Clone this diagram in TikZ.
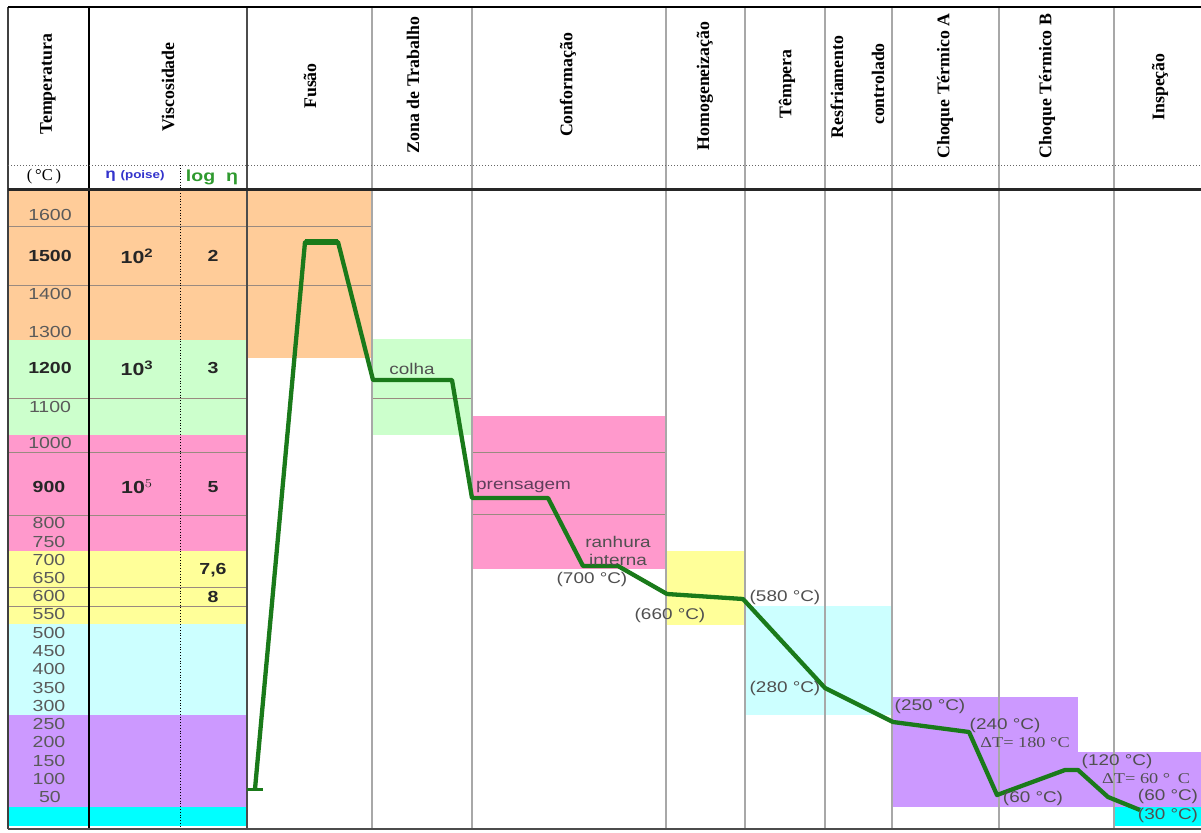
\documentclass[tikz,border=0pt]{standalone}
\usepackage{fontspec}
\setmainfont{Liberation Sans}
\newfontfamily\tnr{Liberation Serif}
\definecolor{corange}{HTML}{FFCC99}
\definecolor{cgreen}{HTML}{CCFFCC}
\definecolor{cpink}{HTML}{FF99CC}
\definecolor{cyellow}{HTML}{FFFF99}
\definecolor{clcyan}{HTML}{CCFFFF}
\definecolor{cpurple}{HTML}{CC99FF}
\definecolor{ccyan}{HTML}{00FFFF}
\definecolor{curvec}{HTML}{1A7A1A}
\definecolor{gridg}{HTML}{A8A8A8}
\definecolor{rowl}{HTML}{9A8A80}
\definecolor{numg}{HTML}{5A5A5A}
\definecolor{numd}{HTML}{262626}
\definecolor{lblc}{HTML}{505050}
\definecolor{prensc}{HTML}{5E3E5A}
\definecolor{etab}{HTML}{3333CC}
\definecolor{logg}{HTML}{2F9A2F}
\newcommand\hstr[1]{\scalebox{1.22}[1]{#1}}
\tikzset{
  hdr/.style={rotate=90, font=\tnr\bfseries\fontsize{17.8}{17.8}\selectfont, inner sep=0pt},
  num/.style={font=\fontsize{16}{16}\selectfont, text=numg, inner sep=0pt},
  numb/.style={font=\bfseries\fontsize{16}{16}\selectfont, text=numd, inner sep=0pt},
  bigv/.style={font=\bfseries\fontsize{17.5}{17.5}\selectfont, text=numd, inner sep=0pt},
  lbl/.style={font=\fontsize{15.5}{15.5}\selectfont, text=lblc, inner sep=0pt},
  dlt/.style={font=\tnr\fontsize{15}{15}\selectfont, text=lblc, inner sep=0pt},
  rowline/.style={draw=rowl, line width=0.9pt},
  colline/.style={draw=gridg, line width=1.8pt},
  curveline/.style={draw=curvec, line width=4.3pt, line join=round}
}
\begin{document}
\begin{tikzpicture}[x=1pt,y=-1pt]
\useasboundingbox (0,0) rectangle (1201,832);
\fill[white] (0,0) rectangle (1201,832);
% left bands
\fill[corange] (8,189) rectangle (247,340);
\fill[cgreen]  (8,340) rectangle (247,435);
\fill[cpink]   (8,435) rectangle (247,551);
\fill[cyellow] (8,551) rectangle (247,624);
\fill[clcyan]  (8,624) rectangle (247,715);
\fill[cpurple] (8,715) rectangle (247,807);
\fill[ccyan]   (8,807) rectangle (247,826);
% stage boxes
\fill[corange] (247,189) rectangle (372,358);
\fill[cgreen]  (372,339) rectangle (472,435);
\fill[cpink]   (472,416) rectangle (666,569);
\fill[cyellow] (666,551) rectangle (745,625);
\fill[clcyan]  (745,606) rectangle (892,715);
\fill[cpurple] (892,697) rectangle (1078,807);
\fill[cpurple] (1078,752) rectangle (1201,807);
\fill[ccyan]   (1114,807) rectangle (1201,826);
% row lines
\draw[rowline] (8,226) -- (372,226);
\draw[rowline] (8,285) -- (372,285);
\draw[rowline] (8,398) -- (247,398);
\draw[rowline] (372,398) -- (472,398);
\draw[rowline] (8,452) -- (247,452);
\draw[rowline] (8,515) -- (247,515);
\draw[rowline] (472,452) -- (666,452);
\draw[rowline] (472,514) -- (666,514);
\draw[rowline] (8,587) -- (247,587);
\draw[rowline] (8,606) -- (247,606);
% column lines
\foreach \xx in {372,472,666,745,825,892,999,1114}
  \draw[colline] (\xx,7) -- (\xx,829);
\draw[draw=black!75, line width=1.2pt] (8,7) -- (8,829);
\draw[draw=black!70, line width=1.3pt] (247,7) -- (247,829);
\draw[draw=black, line width=0.8pt, dotted] (180,165) -- (180,829);
\draw[draw=black, line width=2.6pt] (89,7) -- (89,829);
% horizontal frame lines
\draw[draw=black!60, line width=1pt, dotted] (8,165) -- (1201,165);
\draw[draw=black!85, line width=3pt] (8,189) -- (1201,189);
\draw[draw=black, line width=2pt] (8,7) -- (1201,7);
\draw[draw=black!70, line width=1.5pt] (8,829) -- (1201,829);
% headers
\node[hdr] (hTemp) at (48,84) {Temperatura};
\node[hdr] (hVisc) at (168,87) {Viscosidade};
\node[hdr] (hFus) at (310,86) {Fusão};
\node[hdr] (hZona) at (413,85) {Zona de Trabalho};
\node[hdr] (hConf) at (568,85) {Conformação};
\node[hdr] (hHom) at (705,86) {Homogeneização};
\node[hdr] (hTemp2) at (787,84) {Têmpera};
\node[hdr] (hRes1) at (837,87) {Resfriamento};
\node[hdr] (hRes2) at (878,84) {controlado};
\node[hdr] (hChA) at (945,86) {Choque Térmico A};
\node[hdr] (hChB) at (1047,86) {Choque Térmico B};
\node[hdr] (hIns) at (1160,87) {Inspeção};
% second header row
\node[font=\tnr\fontsize{16.5}{16.5}\selectfont, inner sep=0pt] (uC) at (44,177) {(\,°C\,)};
\node[inner sep=0pt, text=etab] (uEta) at (135,176) {\hstr{\bfseries\fontsize{14}{14}\selectfont η \fontsize{11}{11}\selectfont(poise)}};
\node[inner sep=0pt, text=logg] (uLog) at (212,177) {\hstr{\bfseries\fontsize{16}{16}\selectfont log\ \ η}};
% temperature scale
\node[num] (t1600) at (50,215) {\hstr{1600}};
\node[numb] (t1500) at (50,256) {\hstr{1500}};
\node[num] (t1400) at (50,294) {\hstr{1400}};
\node[num] (t1300) at (50,332) {\hstr{1300}};
\node[numb] (t1200) at (50,368) {\hstr{1200}};
\node[num] (t1100) at (50,407) {\hstr{1100}};
\node[num] (t1000) at (50,443) {\hstr{1000}};
\node[numb] (t900) at (49,487) {\hstr{900}};
\node[num] (t800) at (49,523) {\hstr{800}};
\node[num] (t750) at (49,542) {\hstr{750}};
\node[num] (t700) at (49,560) {\hstr{700}};
\node[num] (t650) at (49,578) {\hstr{650}};
\node[num] (t600) at (49,596) {\hstr{600}};
\node[num] (t550) at (49,614) {\hstr{550}};
\node[num] (t500) at (49,633) {\hstr{500}};
\node[num] (t450) at (49,651) {\hstr{450}};
\node[num] (t400) at (49,669) {\hstr{400}};
\node[num] (t350) at (49,688) {\hstr{350}};
\node[num] (t300) at (49,706) {\hstr{300}};
\node[num] (t250) at (49,724) {\hstr{250}};
\node[num] (t200) at (49,742) {\hstr{200}};
\node[num] (t150) at (49,761) {\hstr{150}};
\node[num] (t100) at (49,779) {\hstr{100}};
\node[num] (t50) at (50,797) {\hstr{50}};
% viscosity values
\node[bigv] (v2) at (137,256) {\hstr{10$^{\mathbf 2}$}};
\node[numb] (l2) at (213,256) {\hstr{2}};
\node[bigv] (v3) at (137,368) {\hstr{10$^{\mathbf 3}$}};
\node[numb] (l3) at (213,368) {\hstr{3}};
\node[bigv] (v5) at (137,487) {\hstr{10$^{5}$}};
\node[numb] (l5) at (213,487) {\hstr{5}};
\node[numb] (l76) at (213,570) {\hstr{7,6}};
\node[numb] (l8) at (213,597) {\hstr{8}};
% curve
\coordinate (c0) at (255,789);
\coordinate (c1) at (305,242);
\coordinate (c2) at (338,242);
\coordinate (c3) at (373,380);
\coordinate (c4) at (452,380);
\coordinate (c5) at (472,498);
\coordinate (c6) at (548,498);
\coordinate (c7) at (583,566);
\coordinate (c8) at (618,566);
\coordinate (c9) at (667,594);
\coordinate (c10) at (743,599);
\coordinate (c11) at (825,688);
\coordinate (c12) at (893,722);
\coordinate (c13) at (969,732);
\coordinate (c14) at (997,795);
\coordinate (c15) at (1065,770);
\coordinate (c16) at (1078,770);
\coordinate (c17) at (1108,797);
\coordinate (c18) at (1140,810);
\coordinate (tk0) at (247,789);
\coordinate (tk1) at (263,789);
\draw[curveline, line width=3pt] (tk0) -- (tk1);
\draw[curveline] (c0) -- (c1) -- (c2) -- (c3) -- (c4) -- (c5) -- (c6) -- (c7) -- (c8) -- (c9) -- (c10) -- (c11) -- (c12) -- (c13) -- (c14) -- (c15) -- (c16) -- (c17) -- (c18);
\draw[curveline, line width=6.5pt] (c1) -- (c2);
% labels
\node[lbl] (colha) at (412,369) {\hstr{colha}};
\node[lbl, anchor=west, text=prensc] (prens) at (476,487) {\hstr{prensagem}};
\node[lbl] (ranh) at (618,542) {\hstr{ranhura}};
\node[lbl] (intern) at (618,560) {\hstr{interna}};
\node[lbl] (T700) at (592,579) {\hstr{(700 °C)}};
\node[lbl] (T660) at (670,615) {\hstr{(660 °C)}};
\node[lbl] (T580) at (785,597) {\hstr{(580 °C)}};
\node[lbl] (T280) at (785,688) {\hstr{(280 °C)}};
\node[lbl] (T250) at (930,706) {\hstr{(250 °C)}};
\node[lbl] (T240) at (1005,725) {\hstr{(240 °C)}};
\node[dlt] (dT180) at (1025,743) {\hstr{ΔT= 180 °C}};
\node[lbl] (T60a) at (1033,798) {\hstr{(60 °C)}};
\node[lbl] (T120) at (1117,761) {\hstr{(120 °C)}};
\node[dlt, anchor=west] (dT60) at (1102,779) {\hstr{ΔT= 60 °\,\ C}};
\node[lbl] (T60b) at (1168,796) {\hstr{(60 °C)}};
\node[lbl] (T30) at (1168,815) {\hstr{(30 °C)}};
\end{tikzpicture}
\end{document}
